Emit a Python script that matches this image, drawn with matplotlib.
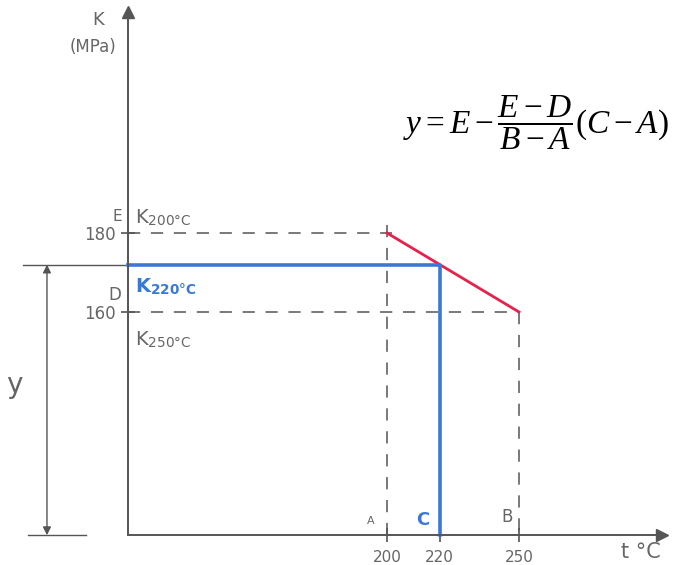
import matplotlib
matplotlib.use("Agg")
import matplotlib.pyplot as plt

plt.rcParams['font.family'] = ['DejaVu Sans']
plt.rcParams['mathtext.fontset'] = 'custom'
plt.rcParams['mathtext.rm'] = 'Liberation Serif'
plt.rcParams['mathtext.it'] = 'Liberation Serif:italic'
plt.rcParams['mathtext.sf'] = 'DejaVu Sans'
plt.rcParams['mathtext.bf'] = 'DejaVu Sans:bold'

# ---- data ----
temps = [200, 220, 250]          # A, C, B  (°C)
temp_letters = ['A', 'C', 'B']
k_known_t = [200, 250]           # temperatures with known K
k_known = [180, 160]             # E, D  (MPa)
k_letters = ['E', 'D']
k_220 = 172                      # value K220°C (read)
y_ticks = [160, 180]
x_tick_labels = ['200', '220', '250']
y_tick_labels = ['160', '180']

# ---- layout constants ----
X0, Y0 = 101.9, 103.5            # where the drawn axes cross
XMAX, YMAX = 304.2, 235.9        # arrow tips
GRAY = '#555555'
TXT = '#666666'
RED = '#e8204a'
BLUE = '#3a78d8'

fig = plt.figure(figsize=(6.8, 5.65), dpi=100)
ax = fig.add_axes([0, 0, 1, 1])
ax.set_xlim(53.41, 310.98)
ax.set_ylim(95.95, 238.99)

for s in ['top', 'right']:
    ax.spines[s].set_visible(False)
ax.spines['left'].set_position(('data', X0))
ax.spines['bottom'].set_position(('data', Y0))
ax.spines['left'].set_bounds(Y0, YMAX)
ax.spines['bottom'].set_bounds(X0, XMAX)
for s in ['left', 'bottom']:
    ax.spines[s].set_color(GRAY)
    ax.spines[s].set_linewidth(1.4)

ax.plot(XMAX, Y0, '>', color=GRAY, markersize=8, clip_on=False)
ax.plot(X0, YMAX, '^', color=GRAY, markersize=8, clip_on=False)

ax.set_xticks(temps)
ax.set_xticklabels(x_tick_labels, color=TXT, fontsize=11)
ax.set_yticks(y_ticks)
ax.set_yticklabels(y_tick_labels, color=TXT, fontsize=12)
ax.tick_params(axis='both', direction='inout', length=10, color=GRAY, width=1.2)
ax.tick_params(axis='x', pad=6)
ax.tick_params(axis='y', pad=4)

# dashed guide lines
dash = dict(color=GRAY, lw=1.1, linestyle=(0, (8, 7)))
ax.plot([X0, k_known_t[0] + 2], [k_known[0], k_known[0]], **dash)
ax.plot([X0, k_known_t[1]], [k_known[1], k_known[1]], **dash)
ax.plot([k_known_t[0], k_known_t[0]], [k_known[0] + 2, Y0], **dash)
ax.plot([k_known_t[1], k_known_t[1]], [k_known[1], Y0], **dash)

# red line between the two known points
ax.plot(k_known_t, k_known, color=RED, lw=2)

# blue K220 path
ax.plot([X0, temps[1], temps[1]], [k_220, k_220, Y0], color=BLUE, lw=2.6)

# left dimension "y"
ax.plot([62, X0 - 1], [k_220, k_220], color=GRAY, lw=1)
ax.plot([64, 86], [Y0, Y0], color=GRAY, lw=1)
ax.annotate('', xy=(71.2, Y0), xytext=(71.2, k_220),
            arrowprops=dict(arrowstyle='<|-|>', color=GRAY, lw=1,
                            mutation_scale=12, shrinkA=0, shrinkB=0),
            annotation_clip=False)
ax.text(59.0, 141.5, 'y', fontsize=20, color=TXT, ha='center', va='center')

# letters at ticks
ax.text(X0 - 4, k_known[0] + 4.2, k_letters[0], fontsize=11, color=TXT, ha='center', va='center')
ax.text(X0 - 5, k_known[1] + 4.2, k_letters[1], fontsize=12, color=TXT, ha='center', va='center')
ax.text(temps[0] - 6, Y0 + 3.5, temp_letters[0], fontsize=8, color=TXT, ha='center', va='center')
ax.text(temps[1] - 6.5, Y0 + 3.8, temp_letters[1], fontsize=13, color=BLUE,
        fontweight='bold', ha='center', va='center')
ax.text(temps[2] - 4.5, Y0 + 4.6, temp_letters[2], fontsize=12, color=TXT, ha='center', va='center')

# K labels
ax.text(X0 + 2.5, k_known[0] + 4.0, r'K$_{\mathsf{200°C}}$', fontsize=14, color=TXT, va='center')
ax.text(X0 + 2.5, k_220 - 5.5, r'K$_{\mathbf{220°C}}$', fontsize=14, color=BLUE,
        fontweight='bold', va='center')
ax.text(X0 + 2.5, k_known[1] - 7.0, r'K$_{\mathsf{250°C}}$', fontsize=14, color=TXT, va='center')

# axis labels
ax.text(90.5, 234.0, 'K', fontsize=13, color=TXT, ha='center', va='center')
ax.text(88.8, 227.2, '(MPa)', fontsize=12, color=TXT, ha='center', va='center')
ax.text(296.0, 99.2, 't °C', fontsize=15, color=TXT, ha='center', va='center')

# formula
ax.text(256.5, 208.0, r'$y = E - \dfrac{E-D}{B-A}(C-A)$', fontsize=24,
        color='black', ha='center', va='center')

fig.savefig('out.png', dpi=100)
